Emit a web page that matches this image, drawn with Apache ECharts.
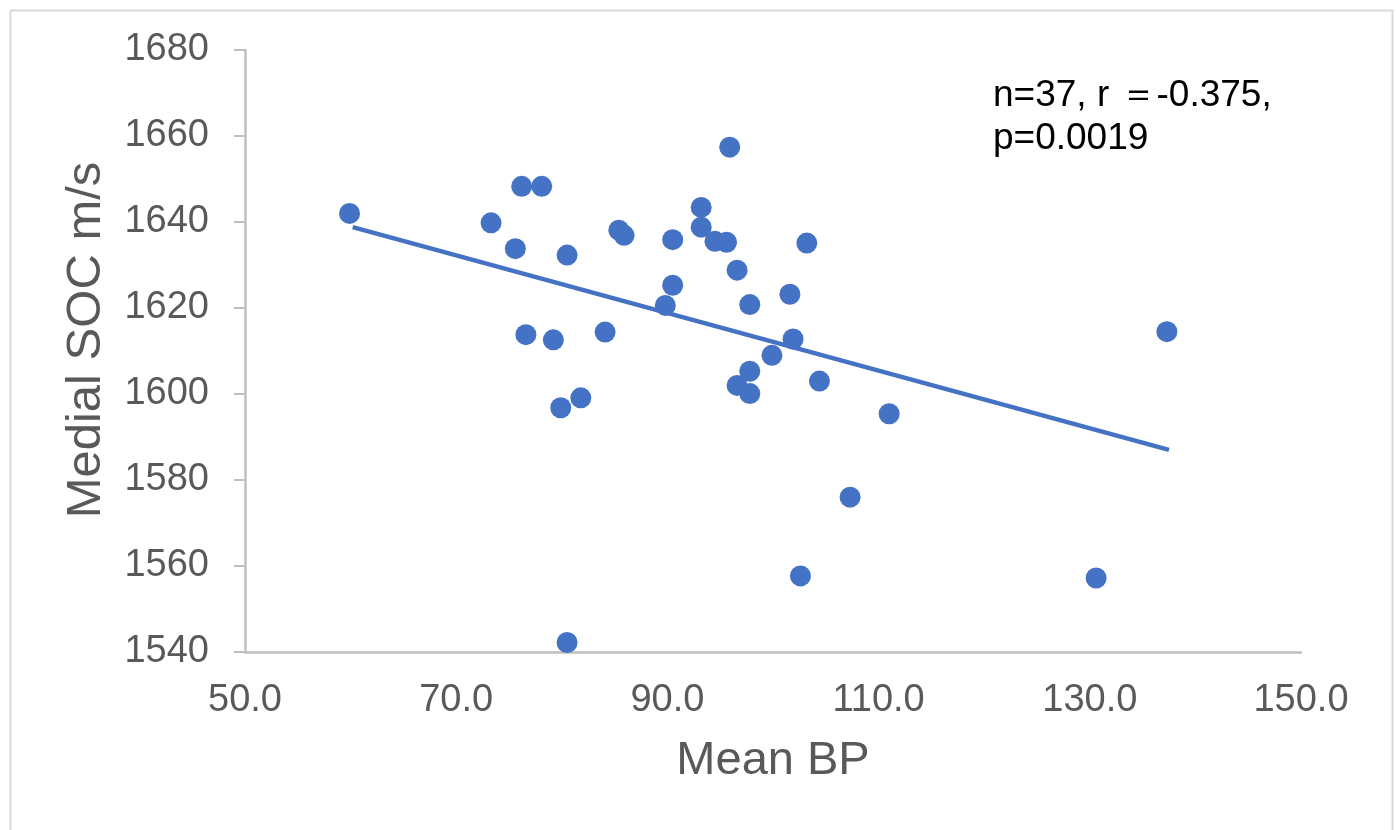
<!DOCTYPE html>
<html>
<head>
<meta charset="utf-8">
<title>Mean BP vs Medial SOC</title>
<script src="https://cdn.jsdelivr.net/npm/echarts@6/dist/echarts.min.js"></script>
<style>
html, body { margin: 0; padding: 0; background: #fff; }
#chart { width: 1396px; height: 830px; }
</style>
</head>
<body>
<div id="chart"></div>
<script>
// mean BP / medial SOC (m/s)
const meanBP = [59.9, 73.3, 76.2, 78.1, 75.6, 80.5, 85.4, 85.9, 90.5, 90.5,
    89.8, 76.6, 79.2, 84.1, 81.8, 79.9, 80.5, 93.2, 93.2, 94.5,
    95.6, 95.9, 96.6, 97.8, 101.6, 103.2, 101.9, 99.9, 97.8, 96.6,
    97.8, 104.4, 111.0, 107.3, 102.6, 130.6, 137.3]
const medialSOC = [1642.0, 1639.8, 1648.3, 1648.3, 1633.8, 1632.3, 1638.1, 1636.9, 1635.9, 1625.3,
    1620.6, 1613.8, 1612.6, 1614.4, 1599.1, 1596.8, 1542.2, 1643.4, 1638.8, 1635.5,
    1635.3, 1657.4, 1628.8, 1620.8, 1623.2, 1635.1, 1612.8, 1609.0, 1605.3, 1602.0,
    1600.1, 1603.0, 1595.4, 1576.0, 1557.7, 1557.2, 1614.5]
// trend line end points
const trendX = [60.2, 137.5]
const trendY = [1638.8, 1587.0]
const xTicks = [50, 70, 90, 110, 130, 150]
const yTicks = [1540, 1560, 1580, 1600, 1620, 1640, 1660, 1680]
const statsText = ['n=37, r ＝-0.375,', 'p=0.0019']

const points = meanBP.map((v, i) => [v, medialSOC[i]])
const trend = trendX.map((v, i) => [v, trendY[i]])

const chart = echarts.init(document.getElementById('chart'))
const font = 'Liberation Sans, Arial, sans-serif'

const option = {
    animation: false,
    backgroundColor: '#fff',
    textStyle: { fontFamily: font },
    grid: {
        left: 245,
        right: 95,
        top: 50,
        bottom: 178,
        containLabel: false,
    },
    xAxis: {
        type: 'value',
        min: xTicks[0],
        max: xTicks[xTicks.length - 1],
        interval: 20,
        name: 'Mean BP',
        nameLocation: 'middle',
        nameGap: 86,
        nameTextStyle: { fontSize: 47, color: '#595959', fontFamily: font },
        axisLine: { show: true, onZero: false, lineStyle: { color: '#BFBFBF', width: 2.5 } },
        axisTick: { show: false },
        splitLine: { show: false },
        axisLabel: {
            fontSize: 38,
            color: '#595959',
            margin: 30,
            formatter: v => v.toFixed(1),
        },
    },
    yAxis: {
        type: 'value',
        min: yTicks[0],
        max: yTicks[yTicks.length - 1],
        interval: 20,
        name: 'Medial SOC m/s',
        nameLocation: 'middle',
        nameGap: 134,
        nameTextStyle: { fontSize: 49, color: '#595959', fontFamily: font, padding: [0, 0, 0, 22] },
        axisLine: { show: true, onZero: false, lineStyle: { color: '#BFBFBF', width: 2.5 } },
        axisTick: { show: true, inside: false, length: 11, lineStyle: { color: '#BFBFBF', width: 2 } },
        splitLine: { show: false },
        axisLabel: {
            fontSize: 38,
            color: '#595959',
            margin: 36,
            formatter: v => String(v),
        },
    },
    graphic: [
        {
            type: 'rect',
            left: 8,
            top: 8,
            shape: { width: 1382, height: 840 },
            style: { fill: 'none', stroke: '#D9D9D9', lineWidth: 2 },
            silent: true,
        },
        {
            type: 'text',
            left: 993,
            top: 74,
            style: {
                text: statsText.join('\n'),
                font: '37px ' + font,
                fill: '#000',
                lineHeight: 43,
            },
        },
    ],
    series: [
        {
            name: 'trend',
            type: 'line',
            data: trend,
            symbol: 'none',
            lineStyle: { color: '#4472C4', width: 4.5 },
            z: 2,
        },
        {
            name: 'points',
            type: 'scatter',
            data: points,
            symbolSize: 21,
            itemStyle: { color: '#4472C4', opacity: 1 },
            z: 3,
        },
    ],
}
chart.setOption(option)
window.addEventListener('resize', () => {
    chart.resize()
})
</script>
</body>
</html>
